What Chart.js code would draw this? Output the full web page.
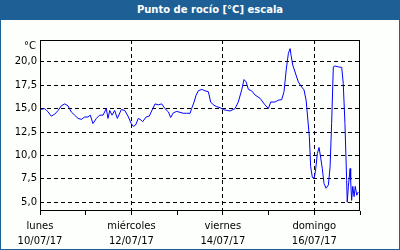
<!DOCTYPE html>
<html>
<head>
<meta charset="utf-8">
<title>Punto de rocío</title>
<script src="https://cdn.jsdelivr.net/npm/chart.js@4"></script>
<style>
	body { margin: 0; background: #fff; }
	#box { position: relative; width: 400px; height: 250px; box-sizing: border-box; border: 1px solid #1e5f96; border-top: none; background: #fdfffd; }
	#banner { position: absolute; left: -1px; top: 0; width: 400px; height: 20px; background: #1e5f96; color: #fff; box-sizing: border-box; padding-left: 20px;
		font: bold 10px "DejaVu Sans", sans-serif; text-align: center; line-height: 20px; }
	#wrap { position: absolute; left: -1px; top: 20px; width: 400px; height: 230px; }
</style>
</head>
<body>

<div id="box">
	<div id="banner">Punto de rocío [°C] escala</div>
	<div id="wrap"><canvas id="myChart"></canvas></div>
</div>

<script type="text/javascript">
	// hours since lunes 10/07/17 00:00
	let horas = [0, 2.5, 4.2, 5.9, 7.7, 9.5, 11.2, 13.0, 14.7, 16.4, 18.2, 20.0, 21.7, 23.5, 25.2, 26.4, 27.8, 29.6, 31.3, 33.1,
		34.8, 35.7, 36.6, 37.8, 39.2, 40.6, 42.7, 44.5, 46.2, 47.9, 49.0, 50.2, 51.6, 52.9, 53.9, 55.7, 57.4, 59.2, 60.4, 62.1,
		63.9, 65.6, 67.4, 68.6, 70.0, 71.8, 73.5, 75.2, 77.0, 78.8, 79.6, 80.9, 81.9, 83.1, 84.9, 86.6, 88.4, 89.6, 91.0, 92.8,
		94.5, 96.2, 98.0, 99.8, 102.4, 104.1, 105.9, 107.1, 108.2, 109.4, 111.1, 112.9, 115.5, 118.1, 119.9, 121.1, 123.4, 125.1, 126.9, 128.1,
		129.3, 130.4, 131.3, 131.8, 132.7, 133.9, 135.6, 137.4, 138.6, 139.7, 140.5, 141.4, 142.1, 143.0, 144.0, 144.7, 145.6, 146.5, 147.4, 148.2,
		149.1, 150.2, 151.4, 152.3, 153.1, 154.0, 154.9, 156.6, 158.4, 159.2, 160.1, 161.0, 161.3, 161.9, 162.8, 163.1, 163.6, 164.2, 164.9, 165.5,
		166.3, 167.1]
	let rocio = [14.9, 15.0, 14.65, 14.2, 14.4, 14.8, 15.3, 15.5, 15.3, 14.65, 14.3, 13.95, 13.85, 14.1, 14.1, 14.3, 13.4, 13.95, 14.3, 14.3,
		15.0, 13.95, 14.8, 14.3, 14.8, 13.95, 14.9, 14.8, 14.2, 13.4, 13.1, 13.25, 13.95, 13.8, 13.6, 14.1, 14.2, 15.0, 15.5, 15.4,
		15.5, 15.0, 14.65, 14.05, 14.55, 14.7, 14.6, 14.5, 14.5, 14.5, 15.0, 15.7, 16.4, 16.9, 17.05, 16.9, 16.8, 15.7, 15.4, 15.2,
		15.1, 14.9, 14.8, 14.75, 15.0, 15.7, 17.0, 18.1, 17.85, 17.05, 16.9, 16.45, 16.1, 15.4, 15.0, 15.7, 15.7, 15.9, 15.95, 16.8,
		19.2, 20.9, 21.4, 20.7, 19.65, 18.9, 17.85, 17.3, 17.0, 15.9, 14.1, 12.0, 8.8, 7.65, 7.6, 8.45, 10.2, 10.85, 9.7, 8.6,
		7.0, 6.5, 6.85, 8.8, 13.4, 19.45, 19.55, 19.45, 19.4, 17.7, 13.4, 7.3, 5.0, 6.7, 8.6, 7.35, 5.2, 6.7, 5.6, 6.7,
		5.75, 6.1]

	let yTicks = [5, 7.5, 10, 12.5, 15, 17.5, 20]
	let diaTicks = [0, 24, 48, 72, 96, 120, 144, 168]
	let dias = {0: ['lunes', '10/07/17'], 48: ['miércoles', '12/07/17'], 96: ['viernes', '14/07/17'], 144: ['domingo', '16/07/17']}

	let puntos = []
	for (let i = 0; i < horas.length; i++) {
		puntos.push({x: horas[i], y: rocio[i]})
	}

	let fuente = {family: '"DejaVu Sans", sans-serif', size: 10, lineHeight: 1.5}

	// box around the plot and the unit label
	let marco = {
		id: 'marco',
		afterDraw(chart) {
			let c = chart.ctx, a = chart.chartArea
			c.save()
			c.strokeStyle = '#000'
			c.lineWidth = 1
			c.strokeRect(a.left + 0.5, a.top + 0.5, a.right - a.left - 1, a.bottom - a.top - 1)
			c.fillStyle = '#000'
			c.font = '10px "DejaVu Sans", sans-serif'
			c.textAlign = 'right'
			c.textBaseline = 'middle'
			c.fillText('°C', 36, 26)
			c.restore()
		}
	}

	let ctx = document.getElementById('myChart')
	myChart = new Chart(ctx, {
		type: 'line',
		data: {
			datasets: [{
				data: puntos,
				borderColor: '#0000ff',
				borderWidth: 1,
				pointRadius: 0,
				tension: 0,
				fill: false
			}]
		},
		options: {
			responsive: true,
			maintainAspectRatio: false,
			animation: false,
			layout: {padding: {left: 0, right: 40, top: 20, bottom: 0}},
			plugins: {legend: {display: false}, tooltip: {enabled: false}},
			scales: {
				x: {
					type: 'linear',
					min: 0,
					max: 168,
					afterBuildTicks: function(s) { s.ticks = diaTicks.map(v => ({value: v})) },
					afterFit: function(s) { s.height = 39 },
					border: {display: false, dash: [4, 3]},
					grid: {
						color: c => (c.tick && [48, 96, 144].includes(c.tick.value)) ? '#000' : 'rgba(0,0,0,0)',
						tickColor: '#000',
						tickBorderDash: [],
						tickLength: 4,
						lineWidth: 1
					},
					ticks: {
						color: '#000',
						font: fuente,
						padding: 4,
						maxRotation: 0,
						autoSkip: false,
						callback: v => dias[v] || ''
					}
				},
				y: {
					min: 4.07,
					max: 22.32,
					afterBuildTicks: function(s) { s.ticks = yTicks.map(v => ({value: v})) },
					afterFit: function(s) { s.width = 40 },
					border: {display: false, dash: [4, 3]},
					grid: {
						color: '#000',
						drawTicks: false,
						lineWidth: 1
					},
					ticks: {
						color: '#000',
						font: fuente,
						padding: 3,
						callback: v => v.toFixed(1).replace('.', ',')
					}
				}
			}
		},
		plugins: [marco]
	})
</script>

</body>
</html>
